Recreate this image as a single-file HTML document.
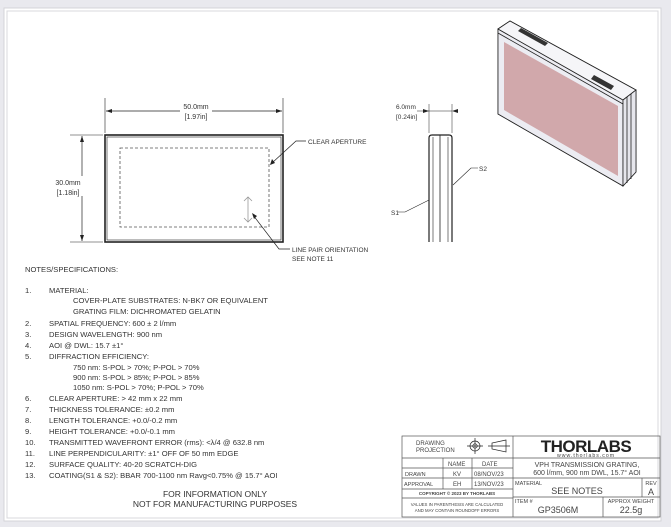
<!DOCTYPE html>
<html><head><meta charset="utf-8"><style>
html,body{margin:0;padding:0;background:#e9e9ee;}
svg{display:block;font-family:"Liberation Sans",sans-serif;}
</style></head><body>
<svg width="671" height="527" viewBox="0 0 671 527" xmlns="http://www.w3.org/2000/svg">
<rect x="0" y="0" width="671" height="527" fill="#e9e9ee"/>
<rect x="4" y="8" width="657" height="513" fill="#fff" stroke="#d4d4d8"/>
<rect x="7" y="11" width="651" height="507" fill="#fff" stroke="#d8d8dc"/>

<!-- front view -->
<g stroke="#222" fill="none">
<rect x="105" y="135" width="178" height="107" stroke-width="1.6"/>
<rect x="107" y="137" width="174" height="103" stroke-width="0.6"/>
<rect x="120" y="148" width="149" height="79" stroke="#555" stroke-dasharray="3,2" stroke-width="0.8"/>
<line x1="105" y1="98" x2="105" y2="133" stroke-width="0.6"/>
<line x1="283" y1="98" x2="283" y2="133" stroke-width="0.6"/>
<line x1="106" y1="111" x2="180" y2="111" stroke-width="0.7"/>
<line x1="212" y1="111" x2="282" y2="111" stroke-width="0.7"/>
<line x1="70" y1="135" x2="103" y2="135" stroke-width="0.6"/>
<line x1="70" y1="242" x2="103" y2="242" stroke-width="0.6"/>
<line x1="82" y1="136" x2="82" y2="176" stroke-width="0.7"/>
<line x1="82" y1="196" x2="82" y2="241" stroke-width="0.7"/>
<polyline points="306,141 296,141 272,163" stroke-width="0.7"/>
<polyline points="290,249 279,249 253,215" stroke-width="0.7"/>
<path d="M248 197 L248 222 M244 201 L248 197 L252 201 M244 218 L248 222 L252 218" stroke="#999" stroke-width="0.8"/>
</g>
<g fill="#222">
<polygon points="106,111 112,109 112,113"/><polygon points="282,111 276,109 276,113"/>
<polygon points="82,136 80,142 84,142"/><polygon points="82,241 80,235 84,235"/>
<polygon points="270,165 272,159 275,163"/><polygon points="252,213 254,219 257,216"/>
</g>
<g font-size="7" fill="#333">
<text x="196" y="109" text-anchor="middle">50.0mm</text>
<text x="196" y="119" text-anchor="middle">[1.97in]</text>
<text x="68" y="185" text-anchor="middle">30.0mm</text>
<text x="68" y="195" text-anchor="middle">[1.18in]</text>
<text x="308" y="144" font-size="6.5">CLEAR APERTURE</text>
<text x="292" y="252" font-size="6.5">LINE PAIR ORIENTATION</text>
<text x="292" y="261" font-size="6.5">SEE NOTE 11</text>
</g>

<!-- side view -->
<g stroke="#222" fill="none">
<path d="M429 242 L429 138 Q429 135 432 135 L449 135 Q452 135 452 138 L452 242" stroke-width="1.2"/>
<line x1="433" y1="137" x2="433" y2="242" stroke-width="0.6"/>
<line x1="440" y1="135" x2="440" y2="242" stroke-width="0.8"/>
<line x1="448" y1="137" x2="448" y2="242" stroke-width="0.6"/>
<line x1="429" y1="104" x2="429" y2="133" stroke-width="0.5"/>
<line x1="452" y1="104" x2="452" y2="133" stroke-width="0.5"/>
<line x1="417" y1="111" x2="452" y2="111" stroke-width="0.6"/>
<polyline points="398,212 405,212 429,200" stroke-width="0.6"/>
<polyline points="478,168 471,168 453,185" stroke-width="0.6"/>
</g>
<g fill="#222"><polygon points="429,111 423,109 423,113"/><polygon points="452,111 458,109 458,113"/></g>
<g font-size="6.5" fill="#333">
<text x="396" y="109">6.0mm</text><text x="396" y="119">[0.24in]</text>
<text x="391" y="215">S1</text><text x="479" y="171">S2</text>
</g>

<!-- iso view -->
<g stroke="#222" stroke-width="0.8">
<polygon points="498,29 510,21 636,90 636,172 623,186 498,114" fill="#f2f2f6"/>
<polygon points="498,29 623,100 623,186 498,114" fill="#ececf2"/>
<polygon points="504,42 618,106 618,176 504,110" fill="#d1a8ab" stroke="none"/>
<polygon points="498,29 510,21 636,90 623,100" fill="#f5f5f8"/>
<line x1="498" y1="33" x2="623" y2="104"/>
<polygon points="623,100 636,90 636,172 623,186" fill="#e6e6ec"/>
<line x1="627" y1="97" x2="627" y2="183"/><line x1="631" y1="94" x2="631" y2="179"/>
</g>
<polygon points="521,28 548,43 545,46 518,31" fill="#333"/>
<polygon points="594,75 614,86 611,90 591,79" fill="#333"/>

<!-- notes -->
<g font-size="7.6" fill="#333">
<text x="25" y="272">NOTES/SPECIFICATIONS:</text>
<text x="25" y="293">1.</text><text x="49" y="293">MATERIAL:</text>
<text x="73" y="303">COVER-PLATE SUBSTRATES: N-BK7 OR EQUIVALENT</text>
<text x="73" y="314">GRATING FILM: DICHROMATED GELATIN</text>
<text x="25" y="326">2.</text><text x="49" y="326">SPATIAL FREQUENCY: 600 ± 2 l/mm</text>
<text x="25" y="337">3.</text><text x="49" y="337">DESIGN WAVELENGTH: 900 nm</text>
<text x="25" y="348">4.</text><text x="49" y="348">AOI @ DWL: 15.7 ±1°</text>
<text x="25" y="359">5.</text><text x="49" y="359">DIFFRACTION EFFICIENCY:</text>
<text x="73" y="370">750 nm: S-POL &gt; 70%; P-POL &gt; 70%</text>
<text x="73" y="380">900 nm: S-POL &gt; 85%; P-POL &gt; 85%</text>
<text x="73" y="390">1050 nm: S-POL &gt; 70%; P-POL &gt; 70%</text>
<text x="25" y="401">6.</text><text x="49" y="401">CLEAR APERTURE: &gt; 42 mm x 22 mm</text>
<text x="25" y="412">7.</text><text x="49" y="412">THICKNESS TOLERANCE: ±0.2 mm</text>
<text x="25" y="423">8.</text><text x="49" y="423">LENGTH TOLERANCE: +0.0/-0.2 mm</text>
<text x="25" y="434">9.</text><text x="49" y="434">HEIGHT TOLERANCE: +0.0/-0.1 mm</text>
<text x="25" y="445">10.</text><text x="49" y="445">TRANSMITTED WAVEFRONT ERROR (rms): &lt;λ/4 @ 632.8 nm</text>
<text x="25" y="456">11.</text><text x="49" y="456">LINE PERPENDICULARITY: ±1° OFF OF 50 mm EDGE</text>
<text x="25" y="467">12.</text><text x="49" y="467">SURFACE QUALITY: 40-20 SCRATCH-DIG</text>
<text x="25" y="478">13.</text><text x="49" y="478">COATING(S1 &amp; S2): BBAR 700-1100 nm Ravg&lt;0.75% @ 15.7° AOI</text>
<text x="215" y="497" text-anchor="middle" font-size="8.5">FOR INFORMATION ONLY</text>
<text x="215" y="507" text-anchor="middle" font-size="8.5">NOT FOR MANUFACTURING PURPOSES</text>
</g>

<!-- title block -->
<g stroke="#555" stroke-width="0.7" fill="none">
<rect x="402" y="436" width="258" height="81"/>
<line x1="513" y1="436" x2="513" y2="517"/>
<line x1="402" y1="458" x2="660" y2="458"/>
<line x1="402" y1="468" x2="513" y2="468"/>
<line x1="402" y1="478" x2="660" y2="478"/>
<line x1="402" y1="489" x2="513" y2="489"/>
<line x1="402" y1="498" x2="513" y2="498"/>
<line x1="513" y1="497" x2="660" y2="497"/>
<line x1="443" y1="458" x2="443" y2="489"/>
<line x1="472" y1="458" x2="472" y2="489"/>
<line x1="642" y1="478" x2="642" y2="497"/>
<line x1="603" y1="497" x2="603" y2="517"/>
<circle cx="475" cy="446" r="5" stroke="#222"/><circle cx="475" cy="446" r="2.2" stroke="#222"/>
<path d="M467 446 H483 M475 438 V454" stroke="#222"/>
<path d="M506 440 L492 443 L492 449 L506 452 Z M488 446 H510" stroke="#222"/>
</g>
<g fill="#444" font-size="6">
<text x="416" y="445">DRAWING</text><text x="416" y="452">PROJECTION</text>
<text x="448" y="466">NAME</text><text x="482" y="466">DATE</text>
<text x="405" y="476" font-size="5.5">DRAWN</text><text x="453" y="476">KV</text><text x="474" y="476">08/NOV/23</text>
<text x="404" y="486" font-size="5.5">APPROVAL</text><text x="453" y="486">EH</text><text x="474" y="486">13/NOV/23</text>
<text x="457" y="495" font-size="4.5" text-anchor="middle" font-weight="bold">COPYRIGHT © 2023 BY THORLABS</text>
<text x="457" y="506" font-size="4.3" text-anchor="middle">VALUES IN PARENTHESIS ARE CALCULATED</text>
<text x="457" y="512" font-size="4.3" text-anchor="middle">AND MAY CONTAIN ROUNDOFF ERRORS</text>
<text x="586" y="452" font-size="17" font-weight="bold" text-anchor="middle" fill="#222" letter-spacing="-0.5">THORLABS</text>
<text x="586" y="457" font-size="5.2" text-anchor="middle" letter-spacing="1">www.thorlabs.com</text>
<text x="587" y="467" font-size="7" text-anchor="middle">VPH TRANSMISSION GRATING,</text>
<text x="587" y="475" font-size="7" text-anchor="middle">600 l/mm, 900 nm DWL, 15.7° AOI</text>
<text x="515" y="485" font-size="5.5">MATERIAL</text>
<text x="577" y="494" font-size="9" text-anchor="middle">SEE NOTES</text>
<text x="651" y="485" font-size="5.5" text-anchor="middle">REV</text>
<text x="651" y="495" font-size="9" text-anchor="middle">A</text>
<text x="515" y="503" font-size="5.5">ITEM #</text>
<text x="558" y="513" font-size="9" text-anchor="middle">GP3506M</text>
<text x="631" y="503" font-size="5.5" text-anchor="middle">APPROX WEIGHT</text>
<text x="631" y="513" font-size="9" text-anchor="middle">22.5g</text>
</g>
</svg>
</body></html>
